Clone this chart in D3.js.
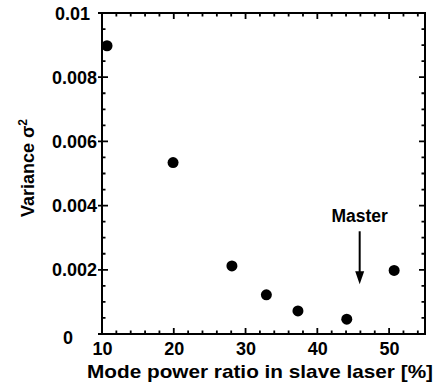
<!DOCTYPE html>
<html>
<head>
<meta charset="utf-8">
<script src="https://cdn.jsdelivr.net/npm/d3@7"></script>
<style>
  body { margin: 0; background: #fff; }
  text { font-family: "Liberation Sans", Arial, sans-serif; font-weight: bold; fill: #000; }
</style>
</head>
<body>
<div id="chart"></div>
<script>
// data
var ratio = [10.7, 19.9, 28.1, 32.9, 37.3, 44.1, 50.7];
var variance = [0.00898, 0.00534, 0.00212, 0.00122, 0.00072, 0.00046, 0.00198];
var xTicks = [10, 20, 30, 40, 50];
var yTicks = [0, 0.002, 0.004, 0.006, 0.008, 0.01];
var masterLabel = "Master";
var masterX = 45.9, arrowTop = 0.0032, arrowTip = 0.00155;

var width = 441, height = 392;
var margin = {top: 13, right: 16, bottom: 58, left: 102};

var svg = d3.select("#chart").append("svg")
    .attr("width", width)
    .attr("height", height);

var x = d3.scaleLinear().domain([10, 55]).range([margin.left, width - margin.right]);
var y = d3.scaleLinear().domain([0, 0.01]).range([height - margin.bottom, margin.top]);

var xMinor = d3.range(12, 55, 2).filter(function(d) { return d % 10 != 0; });
var yMinor = d3.range(1, 20).filter(function(d) { return d % 4 != 0; }).map(function(d) { return d * 0.0005; });

var x0 = x.range()[0], x1 = x.range()[1], y0 = y.range()[0], y1 = y.range()[1];

// tick marks on all four sides, pointing inward
var tickPath = d3.path();
xMinor.concat(xTicks).forEach(function(d) {
    var len = xTicks.indexOf(d) >= 0 ? 6 : 3.5;
    tickPath.moveTo(x(d), y0); tickPath.lineTo(x(d), y0 - len);
    tickPath.moveTo(x(d), y1); tickPath.lineTo(x(d), y1 + len);
});
yMinor.concat(yTicks).forEach(function(d) {
    var major = yTicks.indexOf(d) >= 0;
    var len = major ? 6 : 3.5;
    tickPath.moveTo(x0 - (major ? 4 : 0), y(d)); tickPath.lineTo(x0 + len, y(d));
    tickPath.moveTo(x1, y(d)); tickPath.lineTo(x1 - len, y(d));
});
svg.append("path")
    .attr("d", tickPath.toString())
    .attr("fill", "none")
    .attr("stroke", "#000")
    .attr("stroke-width", 1.8);

// tick labels through the axis generators
var gx = svg.append("g")
    .attr("transform", "translate(0," + y0 + ")")
    .call(d3.axisBottom(x).tickValues(xTicks).tickSize(0).tickPadding(8));
gx.selectAll("text").style("font-size", "18px");

var gy = svg.append("g")
    .attr("transform", "translate(" + x0 + ",0)")
    .call(d3.axisLeft(y).tickValues(yTicks).tickSize(0)
        .tickFormat(function(d) { return d === 0 ? "0" : d3.format(".3~f")(d); }));
gy.selectAll("text")
    .style("font-size", "18px")
    .attr("x", function(d) { return d === 0 ? -29 : (d >= 0.01 ? -12 : -5); })
    .attr("dy", function(d) { return d === 0 ? "0.5em" : "0.34em"; });

svg.selectAll(".domain").remove();

// frame
svg.append("rect")
    .attr("x", x0).attr("y", y1)
    .attr("width", x1 - x0).attr("height", y0 - y1)
    .attr("fill", "none")
    .attr("stroke", "#000")
    .attr("stroke-width", 2);

// points
svg.append("g").selectAll("circle")
    .data(ratio)
    .join("circle")
    .attr("cx", function(d) { return x(d); })
    .attr("cy", function(d, i) { return y(variance[i]); })
    .attr("r", 5.5)
    .attr("fill", "#000");

// master arrow
var ax = x(masterX);
svg.append("line")
    .attr("x1", ax).attr("x2", ax)
    .attr("y1", y(arrowTop)).attr("y2", y(arrowTip) - 10)
    .attr("stroke", "#000")
    .attr("stroke-width", 2);
svg.append("path")
    .attr("d", "M" + (ax - 4.5) + "," + (y(arrowTip) - 13) + "L" + (ax + 4.5) + "," + (y(arrowTip) - 13) + "L" + ax + "," + y(arrowTip) + "Z")
    .attr("fill", "#000");
svg.append("text")
    .attr("x", ax)
    .attr("y", y(arrowTop) - 9)
    .attr("text-anchor", "middle")
    .style("font-size", "17.5px")
    .text(masterLabel);

// axis titles
svg.append("text")
    .attr("x", 260)
    .attr("y", 378)
    .attr("text-anchor", "middle")
    .attr("textLength", 346)
    .attr("lengthAdjust", "spacingAndGlyphs")
    .style("font-size", "19px")
    .text("Mode power ratio in slave laser [%]");

var yt = svg.append("text")
    .attr("transform", "translate(34,168) rotate(-90)")
    .attr("text-anchor", "middle")
    .style("font-size", "18px");
yt.append("tspan").text("Variance σ");
yt.append("tspan").attr("dy", -7).style("font-size", "12px").text("2");
</script>
</body>
</html>
